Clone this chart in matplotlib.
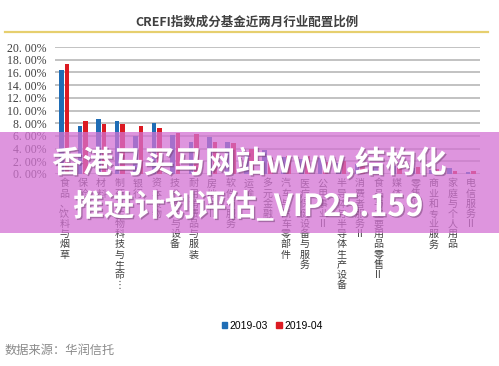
import matplotlib
matplotlib.use("Agg")
from matplotlib import pyplot as plt
from matplotlib.patches import Patch, Rectangle
import matplotlib.patheffects as pe
import numpy as np

plt.rcParams['font.family'] = ['Noto Sans CJK SC', 'DejaVu Sans']

# industries (x axis)
industries = ["食品、饮料与烟草", "保险", "材料", "制药、生物科技与生命⋮", "银行",
              "资本货物", "技术硬件与设备", "耐用消费品与服装", "房地产II", "软件与服务",
              "运输", "多元金融", "汽车与汽车零部件", "医疗保健设备与服务", "公用事业II",
              "半导体与半导体生产设备", "消费者服务II", "食品与主要用品零售II", "媒体",
              "零售业", "商业和专业服务", "家庭与个人用品", "电信服务II"]

# allocation ratio in %
mar_2019 = [16.4, 7.6, 8.6, 8.35, 6.0, 8.1, 6.1, 5.1, 5.9, 5.1,
            3.5, 3.8, 2.6, 2.3, 2.5, 1.7, 1.5, 1.4, 1.2, 1.0, 0.7, 0.9, 0.3]
apr_2019 = [17.3, 8.35, 7.9, 7.9, 7.5, 7.2, 6.5, 6.3, 5.0, 4.9,
            4.0, 2.5, 2.9, 2.8, 1.9, 2.0, 1.8, 1.2, 1.0, 1.1, 0.8, 0.5, 0.4]
series_names = ["2019-03", "2019-04"]

yticks = [0, 2, 4, 6, 8, 10, 12, 14, 16, 18, 20]

blue = "#1f6db5"
red = "#dc1a22"

W, H = 499, 366
fig = plt.figure(figsize=(W / 100, H / 100), dpi=100)
fig.patch.set_facecolor("white")

# plot area in pixels: x 55..480, y 47..174
ax = fig.add_axes([55 / W, 1 - 174 / H, (480 - 55) / W, (174 - 47) / H])
x = np.arange(len(industries))
bw = 0.25
ax.bar(x - 0.15, mar_2019, bw, color=blue, zorder=3)
ax.bar(x + 0.15, apr_2019, bw, color=red, zorder=3)

ax.set_xlim(-0.5, len(industries) - 0.5)
ax.set_ylim(0, 20)
ax.set_yticks(yticks)
ax.set_yticklabels([f"{v:.2f}".replace(".", ". ") + "%" for v in yticks],
                   family="Liberation Serif", fontsize=8.5, color="#404040")
ax.yaxis.grid(True, color="#bdbdbd", lw=1.3, zorder=0)
ax.set_axisbelow(True)
for s in ax.spines.values():
    s.set_visible(False)
ax.tick_params(axis="y", length=0, pad=6)
ax.set_xticks([])

# stacked vertical category labels
for i, name in enumerate(industries):
    chars = name.replace("II", "\u0000").replace("⋮", "\u0001")
    lines = []
    for c in chars:
        if c == "\u0000":
            lines.append("II")
        elif c == "\u0001":
            lines.append("⋮")
        else:
            lines.append(c)
    ax.text(i, -0.7, "\n".join(lines), ha="center", va="top", fontsize=7.2,
            color="#404040", linespacing=1.02)

# title and gold rule
fig.text(247 / W, 1 - 22 / H, "CREFI指数成分基金近两月行业配置比例", ha="center",
         va="center", fontsize=9, fontweight="bold", color="#404040")
fig.add_artist(plt.Line2D([5 / W, 488 / W], [1 - 32 / H, 1 - 32 / H],
                          color="#e6cf6e", lw=1.6))

# legend
handles = [Patch(color=blue, label=series_names[0]),
           Patch(color=red, label=series_names[1])]
fig.legend(handles=handles, loc="center", bbox_to_anchor=(272 / W, 1 - 326 / H),
           ncol=2, frameon=False, fontsize=7.5, handlelength=0.55, handleheight=0.55,
           handletextpad=0.2, columnspacing=0.8, prop={"family": "Liberation Sans", "size": 7.5})

fig.text(5 / W, 1 - 350 / H, "数据来源：华润信托", ha="left", va="center",
         fontsize=8.8, color="#8a8a8a")

# overlay banner
fig.add_artist(Rectangle((0, 1 - 233 / H), 1, (233 - 132) / H, transform=fig.transFigure,
                         facecolor="#d372d3", alpha=0.75, edgecolor="none", zorder=10))
shadow = [pe.withSimplePatchShadow(offset=(1, -1), shadow_rgbFace="#704070", alpha=0.5)]
fig.text(249 / W, 1 - 163 / H, "香港马买马网站www,结构化", ha="center", va="center",
         fontsize=22, fontweight="bold", color="white", zorder=11, path_effects=shadow)
fig.text(248 / W, 1 - 207 / H, "推进计划评估_VIP25.159", ha="center", va="center",
         fontsize=22, fontweight="bold", color="white", zorder=11, path_effects=shadow)

fig.savefig("out.png", dpi=100)
